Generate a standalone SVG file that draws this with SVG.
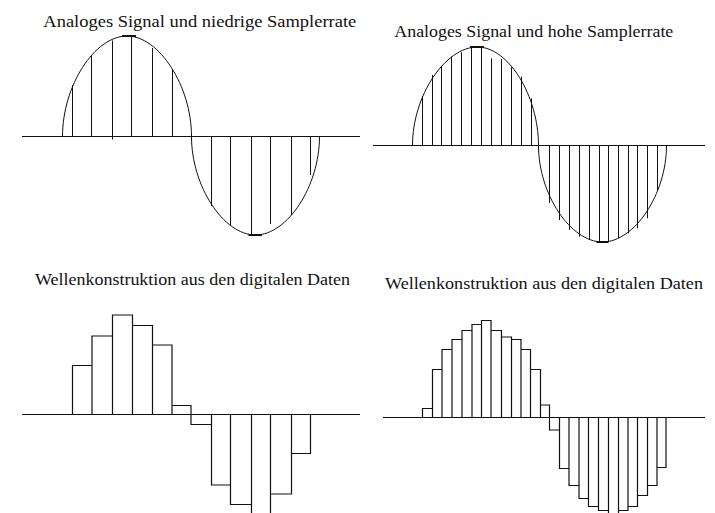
<svg xmlns="http://www.w3.org/2000/svg" width="715" height="513" viewBox="0 0 715 513">
<style>
.ln{stroke:#111;stroke-width:1;fill:none}
.tk{stroke:#111;stroke-width:2;fill:none}
.bar{stroke:#111;stroke-width:1.2;fill:none}
.lbl{font-family:"Liberation Serif","Times New Roman",serif;font-size:16px;fill:#111}
</style>
<rect width="715" height="513" fill="#fff"/>
<g id="panel-low-analog">
<text class="lbl" x="43.3" y="26.5" textLength="313" lengthAdjust="spacingAndGlyphs">Analoges Signal und niedrige Samplerrate</text>
<line class="ln" x1="22" y1="136.5" x2="360" y2="136.5"/>
<path class="ln" d="M62.5,136.5 C62.5,86 94.5,36 127,36 C159,36 191.5,86 191.5,136.5 C191.5,186 223.5,235 255.5,235 C287.5,235 319.5,186 319.5,136.5"/>
<path class="ln" d="M72.5,136.5V85 M91.5,136.5V56 M112.5,139.5V40.5 M131.5,136.5V36.5 M152.5,136.5V48 M172.5,136.5V69 M211.5,136.5V206 M230.5,136.5V225 M251.5,136.5V235 M270.5,136.5V224 M291.5,136.5V215 M310.5,136.5V175"/>
<path class="tk" d="M122,36H136 M248.5,235H262"/>
</g>
<g id="panel-high-analog">
<text class="lbl" x="394.3" y="36.5" textLength="279" lengthAdjust="spacingAndGlyphs">Analoges Signal und hohe Samplerrate</text>
<line class="ln" x1="373" y1="145.5" x2="705" y2="145.5"/>
<path class="ln" d="M412.5,145.5 C412.5,96 445,47 477.5,47 C508.5,47 538.5,96 538.5,145.5 C538.5,194 570.5,242 602.5,242 C634.5,242 666.5,194 666.5,145.5"/>
<path class="ln" d="M422.5,145.5V96 M432.5,145.5V75 M441.5,145.5V66 M451.5,145.5V56.7 M461.5,145.5V52.3 M471.5,145.5V47.3 M481.5,145.5V47.3 M491.5,145.5V58.3 M501.5,145.5V59 M511.5,145.5V67.3 M521.5,145.5V76.7 M531.5,145.5V98.3"/>
<path class="ln" d="M549.5,145.5V203 M559.5,145.5V220 M569.5,145.5V230 M579.5,145.5V236.7 M589.5,145.5V240 M599.5,145.5V241.7 M608.5,145.5V241.7 M618.5,145.5V238.3 M628.5,145.5V233.3 M637.5,145.5V228.3 M647.5,145.5V218.3 M657.5,145.5V190"/>
<path class="tk" d="M470,47H484 M596.5,242H608.5"/>
</g>
<g id="panel-low-digital">
<text class="lbl" x="35" y="284.5" textLength="315" lengthAdjust="spacingAndGlyphs">Wellenkonstruktion aus den digitalen Daten</text>
<line class="ln" x1="22" y1="414.5" x2="360" y2="414.5"/>
<path class="bar" d="M72.5,414.5V365.5H92V414.5 M92,365.5V336H112.5V414.5 M112.5,336V315H132.5V414.5 M132.5,315V325.5H152.5V414.5 M152.5,325.5V345H172V414.5 M172,345V405.5H191V414.5 V424.5H211.5V414.5 M211.5,424.5V485H230.5V414.5 M230.5,485V504.5H251.5V414.5 M251.5,504.5V520 M270.5,414.5V520 M270.5,494H291.5V414.5 M291.5,453.5H310.5V414.5"/>
</g>
<g id="panel-high-digital">
<text class="lbl" x="385" y="288.5" textLength="318" lengthAdjust="spacingAndGlyphs">Wellenkonstruktion aus den digitalen Daten</text>
<line class="ln" x1="383" y1="417.5" x2="705" y2="417.5"/>
<path class="bar" d="M422.5,417.5V408.5H432.5V417.5 M432.5,408.5V369.5H442V417.5 M442,369.5V349.5H452V417.5 M452,349.5V339.5H462V417.5 M462,339.5V330.5H472V417.5 M472,330.5V324.5H481.5V417.5 M481.5,324.5V320.5H491V417.5 M491,320.5V330.5H501.5V417.5 M501.5,330.5V337H511.5V417.5 M511.5,337V339.5H521V417.5 M521,339.5V349.5H530.5V417.5 M530.5,349.5V369.5H540.5V417.5 M540.5,369.5V405H549.5V417.5"/>
<path class="bar" d="M549.5,417.5V430H559.5V417.5 M559.5,430V468.5H569V417.5 M569,468.5V485.5H579V417.5 M579,485.5V498.5H588.5V417.5 M588.5,498.5V506.5H598.5V417.5 M598.5,506.5V510.5H608.5V417.5 M608.5,510.5V520 M618.5,417.5V520 M618.5,510.5H628V417.5 M628,506.5H637.5V417.5 M637.5,495.5H647.5V417.5 M647.5,485.5H657V417.5 M657,467.5H666V417.5"/>
</g>
</svg>
